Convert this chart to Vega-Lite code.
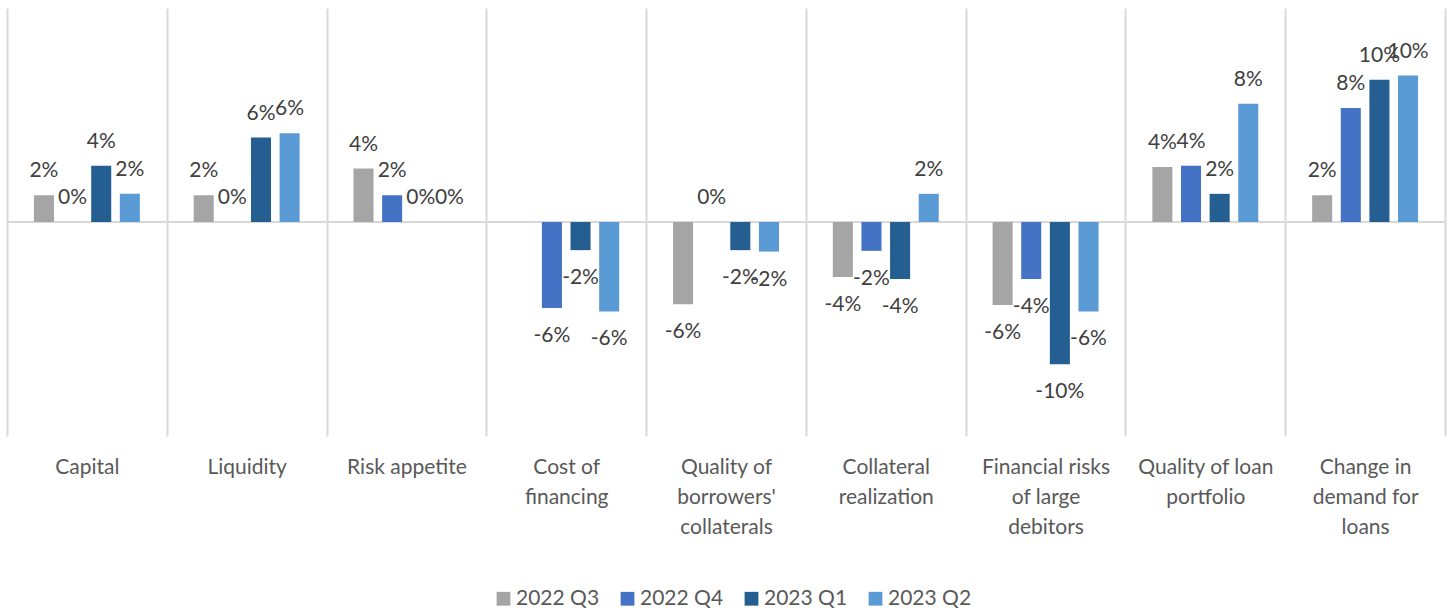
{
  "$schema": "https://vega.github.io/schema/vega-lite/v6.json",
  "width": 1438,
  "height": 428,
  "autosize": {"type": "none"},
  "padding": {"left": 7, "top": 8, "right": 7, "bottom": 175},
  "background": "white",
  "config": {
    "view": {"stroke": null},
    "font": "Lato",
    "locale": {"number": {"decimal": ".", "thousands": ",", "grouping": [3], "currency": ["$", ""], "minus": "-"}}
  },
  "data": {
    "values": [
      {"category": "Capital", "period": "2022 Q3", "value": 0.019},
      {"category": "Capital", "period": "2022 Q4", "value": 0},
      {"category": "Capital", "period": "2023 Q1", "value": 0.040},
      {"category": "Capital", "period": "2023 Q2", "value": 0.020},
      {"category": "Liquidity", "period": "2022 Q3", "value": 0.019},
      {"category": "Liquidity", "period": "2022 Q4", "value": 0},
      {"category": "Liquidity", "period": "2023 Q1", "value": 0.060},
      {"category": "Liquidity", "period": "2023 Q2", "value": 0.063},
      {"category": "Risk appetite", "period": "2022 Q3", "value": 0.038},
      {"category": "Risk appetite", "period": "2022 Q4", "value": 0.019},
      {"category": "Risk appetite", "period": "2023 Q1", "value": 0},
      {"category": "Risk appetite", "period": "2023 Q2", "value": 0},
      {"category": "Cost of financing", "period": "2022 Q4", "value": -0.061},
      {"category": "Cost of financing", "period": "2023 Q1", "value": -0.020},
      {"category": "Cost of financing", "period": "2023 Q2", "value": -0.0635},
      {"category": "Quality of borrowers' collaterals", "period": "2022 Q3", "value": -0.0585},
      {"category": "Quality of borrowers' collaterals", "period": "2022 Q4", "value": 0},
      {"category": "Quality of borrowers' collaterals", "period": "2023 Q1", "value": -0.020},
      {"category": "Quality of borrowers' collaterals", "period": "2023 Q2", "value": -0.021},
      {"category": "Collateral realization", "period": "2022 Q3", "value": -0.039},
      {"category": "Collateral realization", "period": "2022 Q4", "value": -0.0205},
      {"category": "Collateral realization", "period": "2023 Q1", "value": -0.0405},
      {"category": "Collateral realization", "period": "2023 Q2", "value": 0.020},
      {"category": "Financial risks of large debitors", "period": "2022 Q3", "value": -0.059},
      {"category": "Financial risks of large debitors", "period": "2022 Q4", "value": -0.0405},
      {"category": "Financial risks of large debitors", "period": "2023 Q1", "value": -0.101},
      {"category": "Financial risks of large debitors", "period": "2023 Q2", "value": -0.0635},
      {"category": "Quality of loan portfolio", "period": "2022 Q3", "value": 0.039},
      {"category": "Quality of loan portfolio", "period": "2022 Q4", "value": 0.040},
      {"category": "Quality of loan portfolio", "period": "2023 Q1", "value": 0.020},
      {"category": "Quality of loan portfolio", "period": "2023 Q2", "value": 0.084},
      {"category": "Change in demand for loans", "period": "2022 Q3", "value": 0.019},
      {"category": "Change in demand for loans", "period": "2022 Q4", "value": 0.081},
      {"category": "Change in demand for loans", "period": "2023 Q1", "value": 0.101},
      {"category": "Change in demand for loans", "period": "2023 Q2", "value": 0.104}
    ]
  },
  "layer": [
    {
      "data": {"values": [{}]},
      "mark": {"type": "rule", "color": "#d9d9d9", "strokeWidth": 2},
      "encoding": {"y": {"datum": 0, "type": "quantitative", "scale": {"domain": [-0.152, 0.152], "nice": false, "zero": false}, "axis": null}}
    },
    {
      "mark": {"type": "bar"},
      "encoding": {
        "x": {
          "field": "category", "type": "nominal", "sort": null,
          "scale": {"paddingInner": 0, "paddingOuter": 0},
          "axis": {
            "title": null, "orient": "bottom", "domain": false, "ticks": false,
            "grid": true, "gridColor": "#d9d9d9", "gridWidth": 2, "tickBand": "extent",
            "labelAngle": 0, "labelFontSize": 21, "labelColor": "#595959", "labelPadding": 20,
            "labelLineHeight": 30, "labelBaseline": "top",
            "labelExpr": "datum.value == 'Cost of financing' ? ['Cost of', 'financing'] : datum.value == \"Quality of borrowers' collaterals\" ? ['Quality of', \"borrowers'\", 'collaterals'] : datum.value == 'Collateral realization' ? ['Collateral', 'realization'] : datum.value == 'Financial risks of large debitors' ? ['Financial risks', 'of large', 'debitors'] : datum.value == 'Quality of loan portfolio' ? ['Quality of loan', 'portfolio'] : datum.value == 'Change in demand for loans' ? ['Change in', 'demand for', 'loans'] : datum.value"
          }
        },
        "xOffset": {"field": "period", "type": "nominal", "scale": {"domain": ["2022 Q3", "2022 Q4", "2023 Q1", "2023 Q2"], "paddingInner": 0.3, "paddingOuter": 0.94}},
        "y": {"field": "value", "type": "quantitative", "scale": {"domain": [-0.152, 0.152], "nice": false, "zero": false}, "axis": null},
        "color": {
          "field": "period", "type": "nominal",
          "scale": {"domain": ["2022 Q3", "2022 Q4", "2023 Q1", "2023 Q2"], "range": ["#A5A5A5", "#4472C4", "#255E91", "#5B9BD5"]},
          "legend": {
            "title": null, "orient": "none", "direction": "horizontal", "legendX": 486, "legendY": 580,
            "symbolType": "square", "symbolSize": 190, "symbolStrokeWidth": 0,
            "labelFontSize": 21, "labelColor": "#595959", "labelOffset": 2, "columnPadding": 17
          }
        }
      }
    },
    {
      "transform": [{"filter": "datum.value >= 0"}],
      "mark": {"type": "text", "fontSize": 21, "color": "#404040", "baseline": "middle", "dy": -24},
      "encoding": {
        "x": {"field": "category", "type": "nominal", "sort": null},
        "xOffset": {"field": "period", "type": "nominal"},
        "y": {"field": "value", "type": "quantitative", "scale": {"domain": [-0.152, 0.152], "nice": false, "zero": false}},
        "text": {"field": "value", "type": "quantitative", "format": ".0%"}
      }
    },
    {
      "transform": [{"filter": "datum.value < 0"}],
      "mark": {"type": "text", "fontSize": 21, "color": "#404040", "baseline": "middle", "dy": 28},
      "encoding": {
        "x": {"field": "category", "type": "nominal", "sort": null},
        "xOffset": {"field": "period", "type": "nominal"},
        "y": {"field": "value", "type": "quantitative", "scale": {"domain": [-0.152, 0.152], "nice": false, "zero": false}},
        "text": {"field": "value", "type": "quantitative", "format": ".0%"}
      }
    }
  ]
}
